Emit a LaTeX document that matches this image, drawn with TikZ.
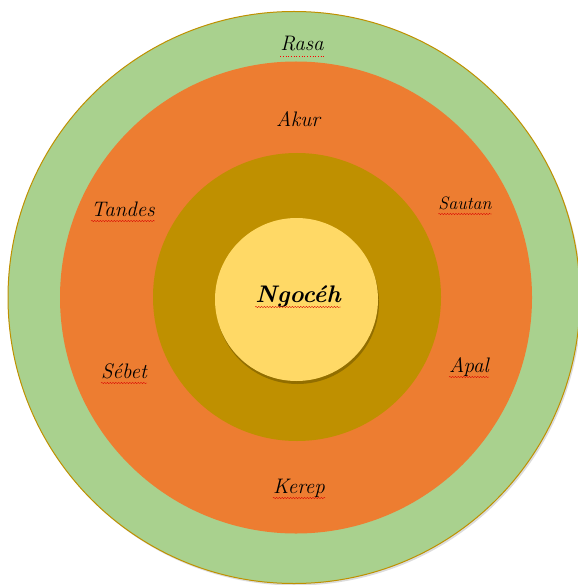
\documentclass[tikz,border=0pt]{standalone}
\usepackage{fontspec}
\usetikzlibrary{decorations.pathmorphing}
\definecolor{ringgreen}{HTML}{A9D18E}
\definecolor{ringorange}{HTML}{ED7D31}
\definecolor{ringolive}{HTML}{BF9000}
\definecolor{coreyellow}{HTML}{FFD966}
\definecolor{coreshadow}{HTML}{7F6000}
\tikzset{
  lbl/.style={anchor=base, inner sep=0pt, text=black, font=\fontsize{21}{25}\selectfont\itshape},
  small/.style={font=\fontsize{18}{22}\selectfont\itshape},
  core/.style={font=\fontsize{24}{28}\selectfont\bfseries\itshape},
  squig/.style={draw=red!85!black, line width=0.35pt, decorate, decoration={snake, segment length=2.8pt, amplitude=0.6pt}},
  dotline/.style={draw=red, line width=0.7pt, dotted}
}
\begin{document}
\begin{tikzpicture}[x=1pt,y=-1pt]
\useasboundingbox (0,0) rectangle (577,585);
\fill[white] (0,0) rectangle (577,585);
% outer shadow
\fill[gray!60, opacity=0.45] (295.5,299.5) circle [radius=286pt];
% rings
\filldraw[fill=ringgreen, draw=ringolive, line width=1pt] (294,297.5) circle [radius=286pt];
\fill[ringorange] (296,297.5) circle [radius=236pt];
\fill[ringolive] (297,297) circle [radius=144pt];
\fill[coreshadow, opacity=0.7] (297.5,302.5) circle [radius=81.5pt];
\fill[coreyellow] (296.5,299.5) circle [radius=81.5pt];
% labels
\node[lbl] (rasa) at (302,51) {Rasa};
\node[lbl] (akur) at (298,127) {Akur};
\node[lbl] (tandes) at (123,216) {Tandes};
\node[lbl, small] (sautan) at (465,209) {Sautan};
\node[lbl] (sebet) at (124,378) {Sébet};
\node[lbl] (apal) at (469,372) {Apal};
\node[lbl] (kerep) at (299,493) {Kerep};
\node[lbl, core] (ngoceh) at (298,302) {Ngocéh};
% spell-check marks
\draw[dotline] ([yshift=-5pt]rasa.base west) -- ([yshift=-5pt]rasa.base east);
\foreach \n in {tandes,sautan,sebet,apal,kerep,ngoceh}
  \draw[squig] ([yshift=-5pt]\n.base west) -- ([yshift=-5pt]\n.base east);
\end{tikzpicture}
\end{document}
